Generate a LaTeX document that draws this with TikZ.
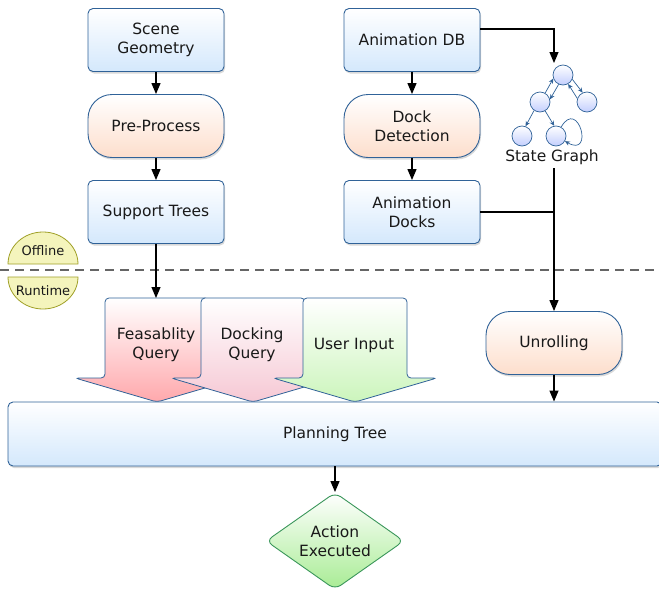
\documentclass[tikz,border=0pt]{standalone}
\usepackage{fontspec}
\setmainfont{DejaVu Sans}
\usetikzlibrary{arrows.meta,shapes.geometric,shadows,positioning,calc}
\definecolor{boxline}{RGB}{48,98,152}
\definecolor{boxfill}{RGB}{212,232,252}
\definecolor{procfill}{RGB}{253,222,204}
\definecolor{endline}{RGB}{58,150,90}
\definecolor{endfill}{RGB}{168,236,148}
\definecolor{feasfill}{RGB}{255,168,172}
\definecolor{dockfill}{RGB}{246,200,212}
\definecolor{userfill}{RGB}{204,245,188}
\definecolor{phaseline}{RGB}{160,160,40}
\definecolor{phasefill}{RGB}{244,244,188}
\definecolor{txt}{RGB}{25,25,25}
\tikzset{datum/.style={draw=boxline, line width=0.9pt, rounded corners=5pt, top color=white, bottom color=boxfill,
    minimum width=136pt, minimum height=63pt, align=center, text=txt, font=\fontsize{15.5}{19}\selectfont,
    drop shadow={shadow xshift=1pt, shadow yshift=-2pt, opacity=0.3}},
  process/.style={datum, rounded corners=24pt, bottom color=procfill},
  bigarrow/.style={draw=boxline, line width=0.8pt, rounded corners=4pt, top color=white},
  gnode/.style={circle, draw=boxline, line width=0.7pt, top color=white, bottom color=boxfill!80!blue!70, minimum size=20pt, inner sep=0pt},
  gedge/.style={draw=boxline, line width=0.7pt, -{Stealth[length=5pt,width=4.5pt]}},
  phase/.style={draw=phaseline, line width=0.8pt, fill=phasefill}}

\begin{document}
\begin{tikzpicture}[x=1pt, y=-1pt, >={Triangle[length=11pt,width=9pt]}, node distance=86pt]
\useasboundingbox (0,0) rectangle (659,589);
% offline / runtime
\draw[gray!80!black, line width=1.1pt, dash pattern=on 9pt off 6pt] (0,270) -- (659,270);
\path[phase] (8,264) arc[start angle=180, end angle=360, x radius=35, y radius=32] -- cycle;
\path[phase] (8,277) arc[start angle=180, end angle=0, x radius=35, y radius=32] -- cycle;
\node[text=txt, font=\fontsize{13}{15}\selectfont] (offline) at (43,251) {Offline};
\node[text=txt, font=\fontsize{13}{15}\selectfont] (runtime) at (43,291) {Runtime};

% offline part
\node[datum] (scene) at (156,40) {Scene\\Geometry};
\node[process][below of=scene] (prep) {Pre-Process};
\node[datum][below of=prep] (strees) {Support Trees};
\node[datum] (adb) at (412,40) {Animation DB};
\node[process][below of=adb] (ddet) {Dock\\Detection};
\node[datum][below of=ddet] (adocks) {Animation\\Docks};

% state graph
\node[gnode] (G0) at (563,75) {};
\node[gnode] (G1) at (540,102) {};
\node[gnode] (G2) at (587,102) {};
\node[gnode] (G3) at (522,136) {};
\node[gnode] (G4) at (556,136) {};
\node[text=txt, font=\fontsize{15.5}{19}\selectfont] (sglabel) at (552,157) {State Graph};
\path[gedge] (G1.60) -- (G0.200);
\path[gedge] (G0.245) -- (G1.15);
\path[gedge] (G0.-25) -- (G2.115);
\path[gedge] (G2.160) -- (G0.-60);
\path[gedge] (G1.235) -- (G3.70);
\path[gedge] (G1.-60) -- (G4.100);
\path[gedge] (G4) edge[loop right, looseness=6, out=60, in=-30] (G4);
\coordinate (sgin) at (554,63);
\coordinate (sgout) at (554,168);
\coordinate (feastop) at (156,298);

% runtime part
\foreach \cx/\col/\txt/\nm in {157/feasfill/{Feasablity\\Query}/feas, 253/dockfill/{Docking\\Query}/dockq, 355/userfill/{User Input}/user}{
  \path[bigarrow, bottom color=\col] (\cx-52,298) -- (\cx+52,298) -- (\cx+52,378) -- (\cx+82,378) -- (\cx,402) -- (\cx-82,378) -- (\cx-52,378) -- cycle;
  \node[align=center, text=txt, font=\fontsize{15.5}{19}\selectfont] (\nm) at (\cx-1,345) {\txt};
}
\node[process] (unroll) at (554,343) {Unrolling};
\node[datum, minimum width=654pt, minimum height=64pt] (plan) at (335,434) {Planning Tree};
\node[diamond, draw=endline, line width=0.9pt, rounded corners=7pt, top color=white, bottom color=endfill, aspect=1.43,
  minimum width=138pt, minimum height=97pt, inner sep=0pt, align=center, text=txt, font=\fontsize{15.5}{19}\selectfont] (action) at (335,541) {Action\\Executed};

% connectors
\path[->, line width=1.2pt] (scene) edge (prep)
  (prep) edge (strees)
  (adb) edge (ddet)
  (ddet) edge (adocks)
  (strees) edge (feastop)
  (sgout) edge (unroll)
  (unroll) edge (unroll.south |- plan.north)
  (plan) edge (action);
\draw[->, line width=1.2pt] ([yshift=11pt]adb.east) -| (sgin);
\draw[line width=1.2pt] (adocks.east) -- (adocks.east -| unroll);
\end{tikzpicture}
\end{document}
